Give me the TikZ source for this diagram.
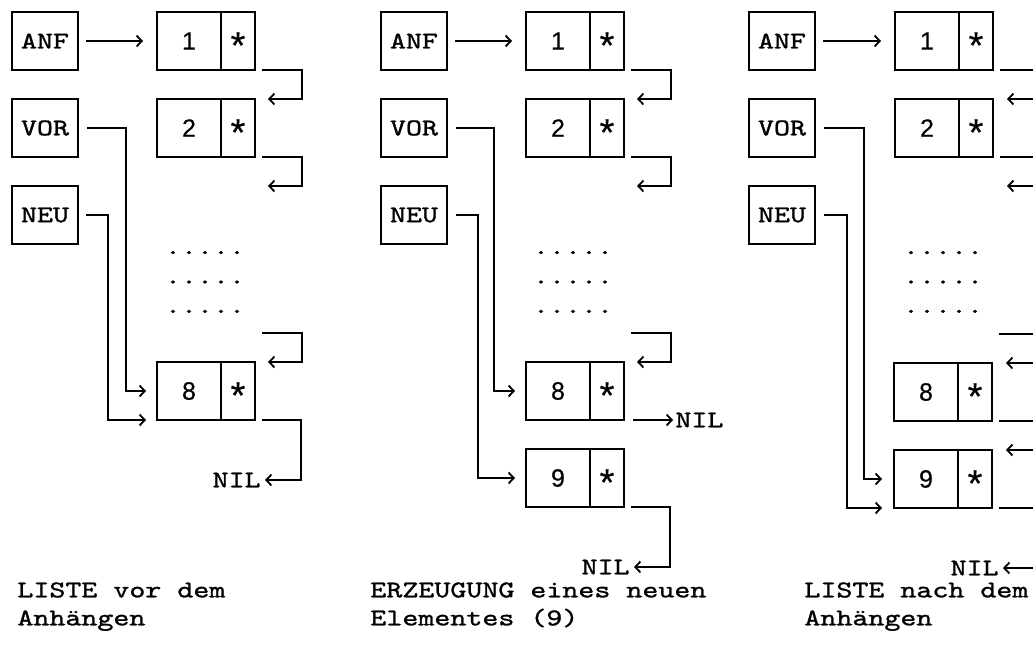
\documentclass[tikz,border=0pt]{standalone}
\usepackage{fontspec}
\newfontfamily\dig[FakeBold=0.4]{Liberation Sans}
\newfontfamily\tw[Extension=.otf, FakeStretch=1.27, FakeBold=1.2]{lmmono10-regular}
\usetikzlibrary{arrows.meta,positioning}
\tikzset{
  varbox/.style={draw, line width=0.9pt, minimum width=33pt, minimum height=29pt,
                 inner sep=0pt, outer sep=0pt, font=\tw\fontsize{12}{14}\selectfont},
  valbox/.style={draw, line width=0.9pt, minimum width=32pt, minimum height=29pt,
                 inner sep=0pt, outer sep=0pt, font=\dig\fontsize{12.5}{13}\selectfont},
  nxtbox/.style={valbox, minimum width=17pt, font=\dig\fontsize{19}{19}\selectfont,
                 text height=17.4pt, text depth=0pt},
  link/.style={-{Straight Barb[length=2.6pt,width=5.5pt]}, line width=0.9pt},
  txt/.style={font=\tw\fontsize{12}{14}\selectfont, inner sep=0pt, align=left},
  dotrows/.style={txt, align=center, font=\tw\fontsize{12}{14.7}\selectfont},
}
\begin{document}
\begin{tikzpicture}[x=0.5pt, y=-0.5pt, node distance=14.5pt]
  \useasboundingbox (0,0) rectangle (1033,666);
  \clip (0,0) rectangle (1033,666);

  % LISTE vor dem Anhaengen
  \node[varbox] (anfA) at (45,41) {ANF};
  \node[varbox, below=of anfA] (vorA) {VOR};
  \node[varbox, below=of vorA] (neuA) {NEU};
  \node[valbox] (a1) at (189,41) {1};
  \node[nxtbox, right=0pt of a1] (a1p) {*};
  \node[valbox, below=of a1] (a2) {2};
  \node[nxtbox, right=0pt of a2] (a2p) {*};
  \node[dotrows] (dotsA) at (205,282) {.....\\.....\\.....};
  \node[valbox] (a8) at (189,391) {8};
  \node[nxtbox, right=0pt of a8] (a8p) {*};
  \coordinate[below=14.5pt of a2p.south east] (a3);
  \coordinate[above=14.5pt of a8p.north east] (a7);
  \node[txt, anchor=east] (nilA) at ([shift={(3pt,-30pt)}]a8p.south east) {NIL};
  \node[txt, anchor=north west] (capA) at (17,582) {LISTE vor dem\\Anhängen};
  \draw[link] ([xshift=4pt]anfA.east) -- ([xshift=-7pt]a1.west);
  \draw[link] ([xshift=3.5pt]a1p.south east) -| ([xshift=23.5pt]a2p.north east) -- ([xshift=6.5pt]a2p.north east);
  \draw[link] ([xshift=3.5pt]a2p.south east) -| ([xshift=23.5pt]a3) -- ([xshift=6.5pt]a3);
  \draw[link] ([xshift=3.5pt]a7) -| ([xshift=23.5pt]a8p.north east) -- ([xshift=6.5pt]a8p.north east);
  \draw[link] ([xshift=3.5pt]a8p.south east) -- ++(19.5pt,0) |- ([xshift=2pt]nilA.east);
  \draw[link] ([xshift=4.5pt]vorA.east) -- ++(19.5pt,0) |- ([xshift=-5.5pt]a8.west);
  \draw[link] ([xshift=4pt]neuA.east) -- ++(11pt,0) |- ([xshift=-5.5pt]a8.south west);

  % ERZEUGUNG eines neuen Elementes
  \begin{scope}[shift={(369,0)}]
  \node[varbox] (anfB) at (45,41) {ANF};
  \node[varbox, below=of anfB] (vorB) {VOR};
  \node[varbox, below=of vorB] (neuB) {NEU};
  \node[valbox] (b1) at (189,41) {1};
  \node[nxtbox, right=0pt of b1] (b1p) {*};
  \node[valbox, below=of b1] (b2) {2};
  \node[nxtbox, right=0pt of b2] (b2p) {*};
  \node[dotrows] (dotsB) at (204,282) {.....\\.....\\.....};
  \node[valbox] (b8) at (189,391) {8};
  \node[nxtbox, right=0pt of b8] (b8p) {*};
  \node[valbox, below=of b8] (b9) {9};
  \node[nxtbox, right=0pt of b9] (b9p) {*};
  \coordinate[below=14.5pt of b2p.south east] (b3);
  \coordinate[above=14.5pt of b8p.north east] (b7);
  \node[txt, anchor=west] (nilB8) at ([xshift=25.5pt]b8p.south east) {NIL};
  \node[txt, anchor=east] (nilB) at ([shift={(3pt,-30pt)}]b9p.south east) {NIL};
  \end{scope}
  \node[txt, anchor=north west] (capB) at (370,582) {ERZEUGUNG eines neuen\\Elementes (9)};
  \draw[link] ([xshift=4pt]anfB.east) -- ([xshift=-7pt]b1.west);
  \draw[link] ([xshift=3.5pt]b1p.south east) -| ([xshift=23.5pt]b2p.north east) -- ([xshift=6.5pt]b2p.north east);
  \draw[link] ([xshift=3.5pt]b2p.south east) -| ([xshift=23.5pt]b3) -- ([xshift=6.5pt]b3);
  \draw[link] ([xshift=3.5pt]b7) -| ([xshift=23.5pt]b8p.north east) -- ([xshift=6.5pt]b8p.north east);
  \draw[link] ([xshift=4.5pt]b8p.south east) -- ([xshift=-1pt]nilB8.west);
  \draw[link] ([xshift=3.5pt]b9p.south east) -- ++(19.5pt,0) |- ([xshift=2pt]nilB.east);
  \draw[link] ([xshift=4.5pt]vorB.east) -- ++(19pt,0) |- ([xshift=-5.5pt]b8.west);
  \draw[link] ([xshift=4.5pt]neuB.east) -- ++(11pt,0) |- ([xshift=-5.5pt]b9.west);

  % LISTE nach dem Anhaengen
  \begin{scope}[shift={(737,0)}]
  \node[varbox] (anfC) at (45,41) {ANF};
  \node[varbox, below=of anfC] (vorC) {VOR};
  \node[varbox, below=of vorC] (neuC) {NEU};
  \node[valbox] (c1) at (190,41) {1};
  \node[nxtbox, right=0pt of c1] (c1p) {*};
  \node[valbox, below=of c1] (c2) {2};
  \node[nxtbox, right=0pt of c2] (c2p) {*};
  \node[dotrows] (dotsC) at (206,282) {.....\\.....\\.....};
  \node[valbox] (c8) at (189,392) {8};
  \node[nxtbox, right=0pt of c8] (c8p) {*};
  \node[valbox, below=of c8] (c9) {9};
  \node[nxtbox, right=0pt of c9] (c9p) {*};
  \coordinate[below=14.5pt of c2p.south east] (c3);
  \coordinate[above=14.5pt of c8p.north east] (c7);
  \node[txt, anchor=east] (nilC) at ([shift={(3.5pt,-30pt)}]c9p.south east) {NIL};
  \end{scope}
  \node[txt, anchor=north west] (capC) at (804,582) {LISTE nach dem\\Anhängen};
  \draw[link] ([xshift=4pt]anfC.east) -- ([xshift=-7pt]c1.west);
  \draw[link] ([xshift=3.5pt]c1p.south east) -| ([xshift=23.5pt]c2p.north east) -- ([xshift=7pt]c2p.north east);
  \draw[link] ([xshift=3.5pt]c2p.south east) -| ([xshift=23.5pt]c3) -- ([xshift=7pt]c3);
  \draw[link] ([xshift=3.5pt]c7) -| ([xshift=23.5pt]c8p.north east) -- ([xshift=7pt]c8p.north east);
  \draw[link] ([xshift=3.5pt]c8p.south east) -| ([xshift=23.5pt]c9p.north east) -- ([xshift=7pt]c9p.north east);
  \draw[link] ([xshift=3.5pt]c9p.south east) -- ++(19.5pt,0) |- ([xshift=2pt]nilC.east);
  \draw[link] ([xshift=4.5pt]vorC.east) -- ++(20pt,0) |- ([xshift=-6pt]c9.west);
  \draw[link] ([xshift=4.5pt]neuC.east) -- ++(11.5pt,0) |- ([xshift=-6pt]c9.south west);
\end{tikzpicture}
\end{document}
